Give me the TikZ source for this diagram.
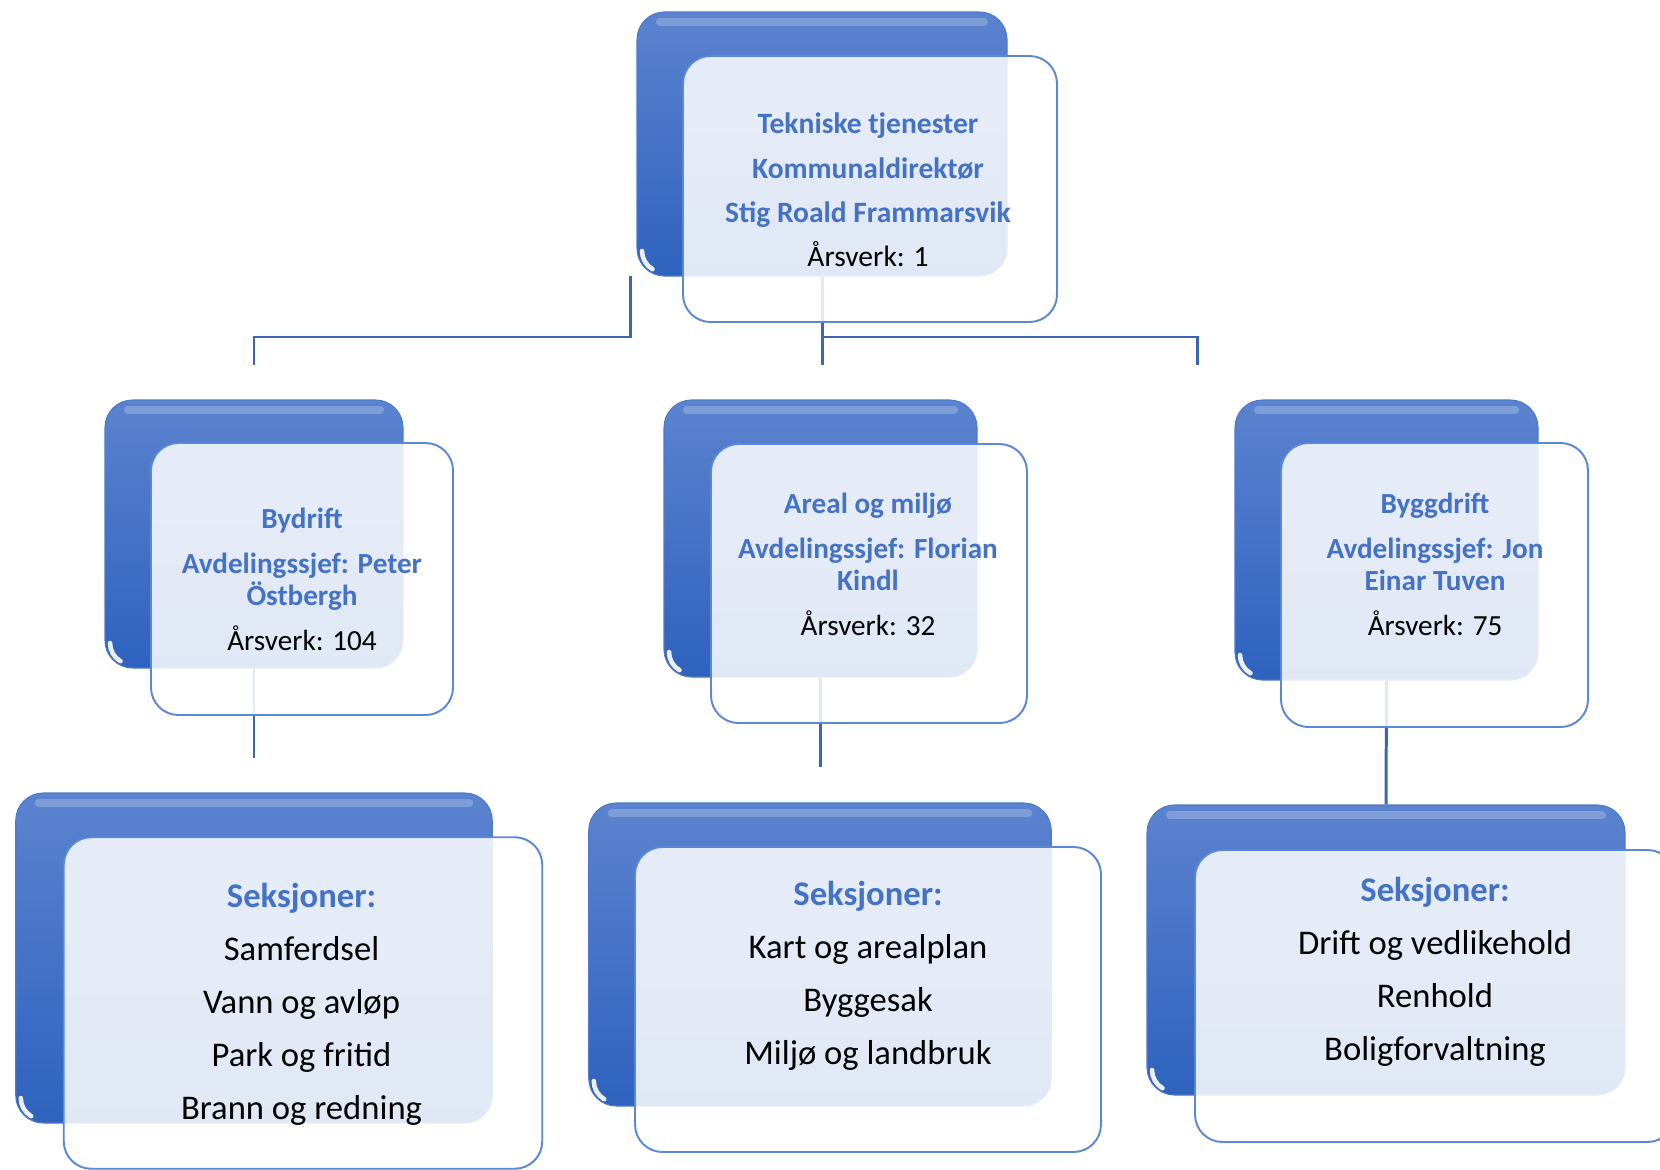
\documentclass[tikz,border=0pt]{standalone}
\usepackage{fontspec}
\setmainfont{Carlito}
\usetikzlibrary{backgrounds}
\definecolor{mainblue}{HTML}{4472C4}
\definecolor{backtop}{HTML}{5B83CF}
\definecolor{backbot}{HTML}{2E62BE}
\definecolor{connblue}{HTML}{3D66B0}
\definecolor{edgeblue}{HTML}{5A88D6}
\tikzset{
	backbox/.style={rounded corners=0.55cm,top color=backtop,bottom color=backbot,draw=backbot!85!white,line width=0.6pt,inner sep=0pt,
		path picture={\draw[white,opacity=.22,line width=4pt,line cap=round] ([xshift=0.45cm,yshift=-0.2cm]path picture bounding box.north west) -- ([xshift=-0.45cm,yshift=-0.2cm]path picture bounding box.north east);
			\draw[white,opacity=.9,line width=2.6pt,line cap=round] ([xshift=0.1cm,yshift=0.5cm]path picture bounding box.south west) arc[start angle=180,end angle=240,radius=0.42cm];}},
	frontbox/.style={rounded corners=0.55cm,fill=white,fill opacity=0.86,text opacity=1,draw=edgeblue,line width=1.1pt,inner sep=0pt},
	conn/.style={draw=connblue,line width=1.7pt},
	midtxt/.style={align=center,font=\fontsize{16.6}{18.2}\selectfont},
	lowtxt/.style={align=center,font=\fontsize{19.7}{30.2}\selectfont}
}
\newcommand{\hdr}[1]{\textcolor{mainblue}{\bfseries #1}}
\begin{document}
\begin{tikzpicture}
	\useasboundingbox (0,0) rectangle (33.2,-23.38);
	\clip (0,0) rectangle (33.2,-23.38);
	% top
	\node[backbox,minimum width=7.4cm,minimum height=5.28cm] (topb) at (16.44,-2.88) {};
	\node[frontbox,minimum width=7.48cm,minimum height=5.32cm] (topf) at (17.40,-3.78) {};
	\node[align=center,font=\fontsize{16.8}{25.3}\selectfont] (toptxt) at (17.36,-3.80)
		{\hdr{Tekniske tjenester}\\\hdr{Kommunaldirektør}\\\hdr{Stig Roald Frammarsvik}\\Årsverk: 1};
	% avdelinger
	\node[backbox,minimum width=5.96cm,minimum height=5.36cm] (bydb) at (5.08,-10.68) {};
	\node[frontbox,minimum width=6.04cm,minimum height=5.44cm] (bydf) at (6.04,-11.58) {};
	\node[midtxt] (bydtxt) at (6.04,-11.58)
		{\hdr{Bydrift}\\[7.4pt]\hdr{Avdelingssjef: Peter}\\\hdr{Östbergh}\\[7.4pt]Årsverk: 104};
	\node[backbox,minimum width=6.26cm,minimum height=5.54cm] (arealb) at (16.41,-10.77) {};
	\node[frontbox,minimum width=6.32cm,minimum height=5.58cm] (arealf) at (17.38,-11.67) {};
	\node[midtxt] (arealtxt) at (17.36,-11.28)
		{\hdr{Areal og miljø}\\[7.4pt]\hdr{Avdelingssjef: Florian}\\\hdr{Kindl}\\[7.4pt]Årsverk: 32};
	\node[backbox,minimum width=6.06cm,minimum height=5.6cm] (byggb) at (27.73,-10.80) {};
	\node[frontbox,minimum width=6.14cm,minimum height=5.68cm] (byggf) at (28.69,-11.70) {};
	\node[midtxt] (byggtxt) at (28.70,-11.28)
		{\hdr{Byggdrift}\\[7.4pt]\hdr{Avdelingssjef: Jon}\\\hdr{Einar Tuven}\\[7.4pt]Årsverk: 75};
	% seksjoner
	\node[backbox,minimum width=9.53cm,minimum height=6.6cm] (seksb1) at (5.08,-19.16) {};
	\node[frontbox,minimum width=9.57cm,minimum height=6.63cm] (seksf1) at (6.06,-20.06) {};
	\node[lowtxt] (seks1) at (6.03,-20.09)
		{\hdr{Seksjoner:}\\Samferdsel\\Vann og avløp\\Park og fritid\\Brann og redning};
	\node[backbox,minimum width=9.25cm,minimum height=6.06cm] (seksb2) at (16.40,-19.09) {};
	\node[frontbox,minimum width=9.32cm,minimum height=6.1cm] (seksf2) at (17.36,-19.99) {};
	\node[lowtxt] (seks2) at (17.36,-19.51)
		{\hdr{Seksjoner:}\\Kart og arealplan\\Byggesak\\Miljø og landbruk};
	\node[backbox,minimum width=9.56cm,minimum height=5.8cm] (seksb3) at (27.72,-19.00) {};
	\node[frontbox,minimum width=9.6cm,minimum height=5.84cm] (seksf3) at (28.70,-19.92) {};
	\node[lowtxt] (seks3) at (28.70,-19.44)
		{\hdr{Seksjoner:}\\Drift og vedlikehold\\Renhold\\Boligforvaltning};
	% connectors
	\coordinate (jl) at (12.60,-5.52);
	\coordinate (c1) at (5.08,-7.30);
	\coordinate (c2) at (16.44,-7.30);
	\coordinate (c3) at (23.94,-7.30);
	\coordinate (c4) at (5.08,-15.16);
	\coordinate (c5) at (16.41,-15.34);
	\begin{scope}[on background layer]
		\draw[conn] (jl) -- ++(0,-1.22) -| (c1);
		\draw[conn] (topb.south) -- (c2);
		\draw[conn] (topb.south |- 0,-6.74) -| (c3);
		\draw[conn] (bydb.south) -- (c4);
		\draw[conn] (arealb.south) -- (c5);
		\draw[conn] (byggb.south) -- (seksb3.north);
	\end{scope}
\end{tikzpicture}
\end{document}
